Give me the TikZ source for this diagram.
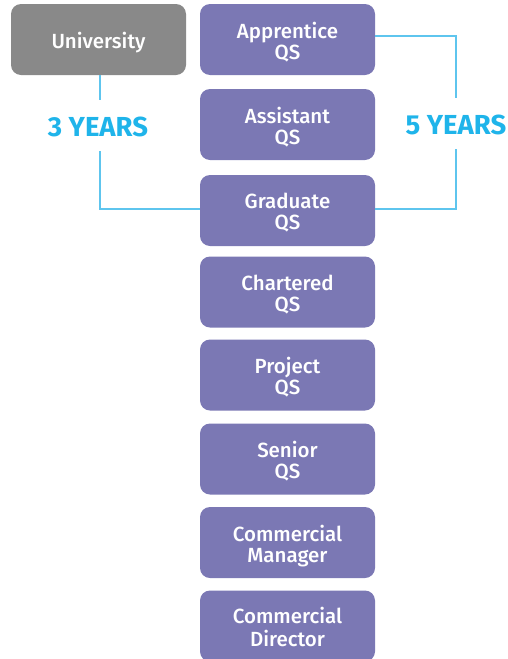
\documentclass[tikz,border=0pt]{standalone}
\usepackage{fontspec}
\setmainfont{Fira Sans}[UprightFont=* Medium,BoldFont=* Bold]
\definecolor{qspurple}{HTML}{7B78B4}
\definecolor{unigray}{HTML}{898989}
\definecolor{yearblue}{HTML}{1FB4EA}
\definecolor{lineblue}{HTML}{5EC5EE}
\newcommand\boxtext[1]{\raisebox{-4pt}[\height][\depth]{\begin{tabular}{@{}c@{}}#1\end{tabular}}}
\begin{document}
\begin{tikzpicture}[x=1pt,y=-1pt,
  box/.style={draw=none,rounded corners=10pt,minimum width=175pt,minimum height=71pt,
    text=white,align=center,font=\fontsize{20.5}{21}\selectfont,inner sep=0pt},
  pbox/.style={box,fill=qspurple},
  gbox/.style={box,fill=unigray},
  yrs/.style={text=yearblue,font=\fontsize{27.5}{29}\selectfont\bfseries},
  link/.style={draw=lineblue,line width=2pt}]
\useasboundingbox (0,0) rectangle (508,659);
\node[gbox] (uni) at (98.5,39.5) {\boxtext{University}};
\node[pbox] (app) at (287.5,39.5) {\boxtext{Apprentice\\QS}};
\node[pbox] (ass) at (287.5,124.5) {\boxtext{Assistant\\QS}};
\node[pbox] (grad) at (287.5,210.5) {\boxtext{Graduate\\QS}};
\node[pbox] (chart) at (287.5,292) {\boxtext{Chartered\\QS}};
\node[pbox] (proj) at (287.5,375) {\boxtext{Project\\QS}};
\node[pbox] (sen) at (287.5,459) {\boxtext{Senior\\QS}};
\node[pbox] (cm) at (287.5,542.5) {\boxtext{Commercial\\Manager}};
\node[pbox] (cd) at (287.5,626) {\boxtext{Commercial\\Director}};
\node[yrs] (three) at (98,127) {3 YEARS};
\node[yrs] (five) at (456,125) {5 YEARS};
\coordinate (lc) at (100,209);
\coordinate (rt) at (456,36);
\coordinate (rb) at (456,209);
\draw[link] (uni.south -| lc) -- (lc |- 0,100);
\draw[link] (lc |- 0,151) -- (lc) -- (grad.west |- lc);
\draw[link] (app.east |- rt) -- (rt) -- (rt |- 0,98);
\draw[link] (rt |- 0,149) -- (rb) -- (grad.east |- rb);
\end{tikzpicture}
\end{document}
